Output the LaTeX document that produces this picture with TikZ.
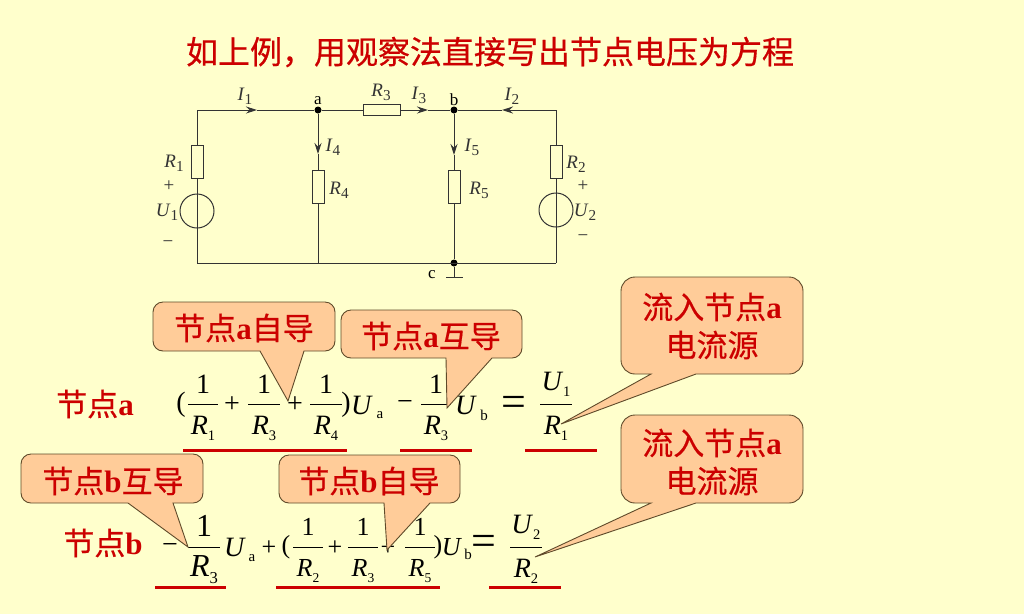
\documentclass[tikz,border=0pt]{standalone}
\usepackage{fontspec}
\setmainfont{Liberation Serif}
\newfontfamily\cjk[FakeBold=0.5]{Noto Sans CJK SC}
\usetikzlibrary{arrows.meta}
\definecolor{pagebg}{HTML}{FFFFCC}
\definecolor{redtext}{HTML}{CC0000}
\definecolor{boxfill}{HTML}{FFCC99}
\definecolor{boxline}{HTML}{5F4A2A}
\definecolor{wirecol}{HTML}{333333}
\newcommand{\zh}[1]{{\mdseries\cjk #1}}
\newcommand{\vsub}[2]{\textit{#1}\raisebox{-0.22em}{\scalebox{0.52}{#2}}}
\newcommand{\csub}[2]{\textit{#1}\raisebox{-0.22em}{\scalebox{0.8}{#2}}}
% name, x, y of bar, half width, numerator, denominator
\newcommand{\fracnode}[6]{
\node[eqtext] (#1n) at (#2,#3-20) {#5};
\node[eqtext] (#1d) at (#2,#3+24) {#6};
\draw[fracbar] (#2-#4,#3) -- (#2+#4,#3);
}
% radius, x1, y1, x2, y2, root left, root right, tip x, tip y
\newcommand{\callbox}[9][10pt]{
\draw[callout] (#6,#5) [rounded corners=#1] -- (#2,#5) -- (#2,#3) -- (#4,#3) -- (#4,#5) [sharp corners] -- (#7,#5) -- (#8,#9) -- cycle;
}
\tikzset{
wire/.style={draw=wirecol,line width=1pt},
arrowwire/.style={wire,-{Stealth[length=11pt,width=7pt]}},
resistor/.style={draw=wirecol,line width=1pt,fill=pagebg,minimum width=#1,inner sep=0pt},
source/.style={draw=wirecol,line width=1pt,circle,minimum size=34pt,inner sep=0pt},
dot/.style={circle,fill=black,inner sep=0pt,minimum size=7pt},
lab/.style={inner sep=0pt,text=wirecol,font=\fontsize{19}{22}\selectfont},
tinylab/.style={inner sep=0pt,text=black,font=\fontsize{17}{20}\selectfont},
eqtext/.style={inner sep=0pt,text=black,font=\fontsize{28}{30}\selectfont},
eqsmall/.style={inner sep=0pt,text=black,font=\fontsize{26}{28}\selectfont},
eqbig/.style={inner sep=0pt,text=black,font=\fontsize{32}{34}\selectfont},
eqsub/.style={inner sep=0pt,text=black,font=\fontsize{15}{18}\selectfont},
eqsign/.style={inner sep=0pt,text=black,font=\fontsize{44}{46}\selectfont},
fracbar/.style={draw=black,line width=0.9pt},
redlabel/.style={inner sep=0pt,text=redtext,font=\fontsize{31}{36}\selectfont\bfseries},
callout/.style={draw=boxline,fill=boxfill,line width=0.9pt},
redline/.style={draw=redtext,line width=3pt}
}
\begin{document}
\begin{tikzpicture}[x=1pt,y=-1pt]
\useasboundingbox[fill=pagebg] (0,0) rectangle (1024,614);

\node[inner sep=0pt,text=redtext,font=\fontsize{32}{36}\selectfont\cjk] (title) at (490,52) {如上例，用观察法直接写出节点电压为方程};

% circuit
\coordinate (tl) at (197,110);
\coordinate (tr) at (556,110);
\coordinate (bl) at (197,263);
\coordinate (br) at (556,263);
\coordinate (d) at (318,263);
\node[dot] (a) at (318,110) {};
\node[dot] (b) at (454,110) {};
\node[dot] (c) at (454,263) {};
\coordinate (i1) at (257,110);
\coordinate (i3) at (428,110);
\coordinate (i2) at (502,110);
\coordinate (i4) at (318,154);
\coordinate (i5) at (454,155);
\coordinate (gnd) at (454,277);
\coordinate (gl) at (446,277);
\coordinate (gr) at (463,277);

\node[source] (u1) at (197,211) {};
\node[source] (u2) at (556,210) {};
\node[resistor=12pt,minimum height=33pt] (r1) at (197,162) {};
\node[resistor=12pt,minimum height=33pt] (r2) at (556,162) {};
\node[resistor=12pt,minimum height=33pt] (r4) at (318,187) {};
\node[resistor=12pt,minimum height=33pt] (r5) at (454,187) {};
\node[resistor=37pt,minimum height=11pt] (r3) at (382,110) {};

\draw[arrowwire] (tl) -- (i1);
\draw[wire] (i1) -- (a);
\draw[wire] (a) -- (r3);
\draw[arrowwire] (r3) -- (i3);
\draw[wire] (i3) -- (b);
\draw[arrowwire] (tr) -- (i2);
\draw[wire] (i2) -- (b);
\draw[wire] (tl) -- (r1);
\draw[wire] (r1) -- (bl);
\draw[wire] (tr) -- (r2);
\draw[wire] (r2) -- (br);
\draw[arrowwire] (a) -- (i4);
\draw[wire] (i4) -- (r4);
\draw[wire] (r4) -- (d);
\draw[arrowwire] (b) -- (i5);
\draw[wire] (i5) -- (r5);
\draw[wire] (r5) -- (c);
\draw[wire] (bl) -- (br);
\draw[wire] (c) -- (gnd);
\draw[wire] (gl) -- (gr);

\node[lab] (li1) at (245,96) {\csub{I}{1}};
\node[tinylab] (la) at (318,101) {a};
\node[lab] (lr3) at (381,92) {\csub{R}{3}};
\node[lab] (li3) at (419,95) {\csub{I}{3}};
\node[tinylab] (lb) at (454,100) {b};
\node[lab] (li2) at (512,96) {\csub{I}{2}};
\node[lab] (li4) at (333,147) {\csub{I}{4}};
\node[lab] (li5) at (472,147) {\csub{I}{5}};
\node[lab] (lr1) at (174,163) {\csub{R}{1}};
\node[lab] (lr4) at (339,190) {\csub{R}{4}};
\node[lab] (lr5) at (479,190) {\csub{R}{5}};
\node[lab] (lr2) at (576,164) {\csub{R}{2}};
\node[lab] (lp1) at (169,186) {+};
\node[lab] (lu1) at (167,212) {\csub{U}{1}};
\node[lab] (lm1) at (168,244) {−};
\node[lab] (lp2) at (583,186) {+};
\node[lab] (lu2) at (585,212) {\csub{U}{2}};
\node[lab] (lm2) at (583,238) {−};
\node[tinylab] (lc) at (432,275) {c};

% node a equation
\node[redlabel] (eqa) at (95,404) {\zh{节点}a};
\node[eqtext] (pa1) at (181,405) {(};
\fracnode{fa1}{203}{404}{15}{1}{\vsub{R}{1}}
\node[eqtext] (pa2) at (232,405) {+};
\fracnode{fa2}{264}{404}{16}{1}{\vsub{R}{3}}
\node[eqtext] (pa3) at (295,405) {+};
\fracnode{fa3}{326}{404}{16}{1}{\vsub{R}{4}}
\node[eqtext] (pa4) at (346,405) {)};
\node[eqtext] (ua) at (362,405) {\textit{U}};
\node[eqsub] (ua0) at (380,415) {a};
\node[eqtext] (ma) at (405,405) {−};
\fracnode{fa4}{436}{404}{15}{1}{\vsub{R}{3}}
\node[eqtext] (ub) at (466,405) {\textit{U}};
\node[eqsub] (ub0) at (484,415) {b};
\node[eqsign] (ea) at (514,406) {=};
\fracnode{fa5}{556}{404}{16}{\vsub{U}{1}}{\vsub{R}{1}}

% node b equation
\node[redlabel] (eqb) at (103,543) {\zh{节点}b};
\node[eqtext] (mb) at (170,548) {−};
\node[eqbig] (fb1n) at (204,526) {1};
\node[eqbig] (fb1d) at (204,570) {\vsub{R}{3}};
\draw[fracbar] (188,547) -- (220,547);
\node[eqtext] (uc) at (235,547) {\textit{U}};
\node[eqsub] (uc0) at (252,558) {a};
\node[eqsmall] (pb1) at (269,548) {+};
\node[eqsmall] (pb2) at (286,547) {(};
\begin{scope}[eqtext/.style=eqsmall]
\fracnode{fb2}{308}{547}{15}{1}{\vsub{R}{2}}
\fracnode{fb3}{363}{547}{15}{1}{\vsub{R}{3}}
\fracnode{fb4}{420}{547}{15}{1}{\vsub{R}{5}}
\end{scope}
\node[eqsmall] (pb3) at (335,548) {+};
\node[eqsmall] (pb4) at (388,548) {+};
\node[eqsmall] (pb5) at (438,547) {)};
\node[eqsmall] (ud) at (452,547) {\textit{U}};
\node[eqsub] (ud0) at (468,554) {b};
\node[eqsign] (eb) at (484,545) {=};
\fracnode{fb5}{526}{547}{16}{\vsub{U}{2}}{\vsub{R}{2}}

% underlines
\draw[redline] (183,450) -- (347,450);
\draw[redline] (400,450) -- (472,450);
\draw[redline] (525,450) -- (597,450);
\draw[redline] (155,587) -- (226,587);
\draw[redline] (276,587) -- (440,587);
\draw[redline] (489,587) -- (561,587);

% callouts
\callbox{153}{302}{335}{351}{260}{304}{288}{401}
\node[redlabel] (ca1) at (244,328) {\zh{节点}a\zh{自导}};
\callbox{341}{310}{522}{358}{446}{492}{447}{408}
\node[redlabel] (ca2) at (431,336) {\zh{节点}a\zh{互导}};
\callbox{21}{454}{203}{503}{128}{173}{188}{547}
\node[redlabel] (cb1) at (113,481) {\zh{节点}b\zh{互导}};
\callbox{279}{455}{460}{503}{384}{430}{387}{550}
\node[redlabel] (cb2) at (369,481) {\zh{节点}b\zh{自导}};
\callbox[14pt]{621}{277}{803}{374}{651}{696}{561}{424}
\node[redlabel] (cs1) at (712,307) {\zh{流入节点}a};
\node[redlabel] (cs2) at (712,345) {\zh{电流源}};
\callbox[14pt]{621}{415}{803}{503}{651}{696}{535}{557}
\node[redlabel] (cs3) at (712,443) {\zh{流入节点}a};
\node[redlabel] (cs4) at (712,481) {\zh{电流源}};
\end{tikzpicture}
\end{document}
